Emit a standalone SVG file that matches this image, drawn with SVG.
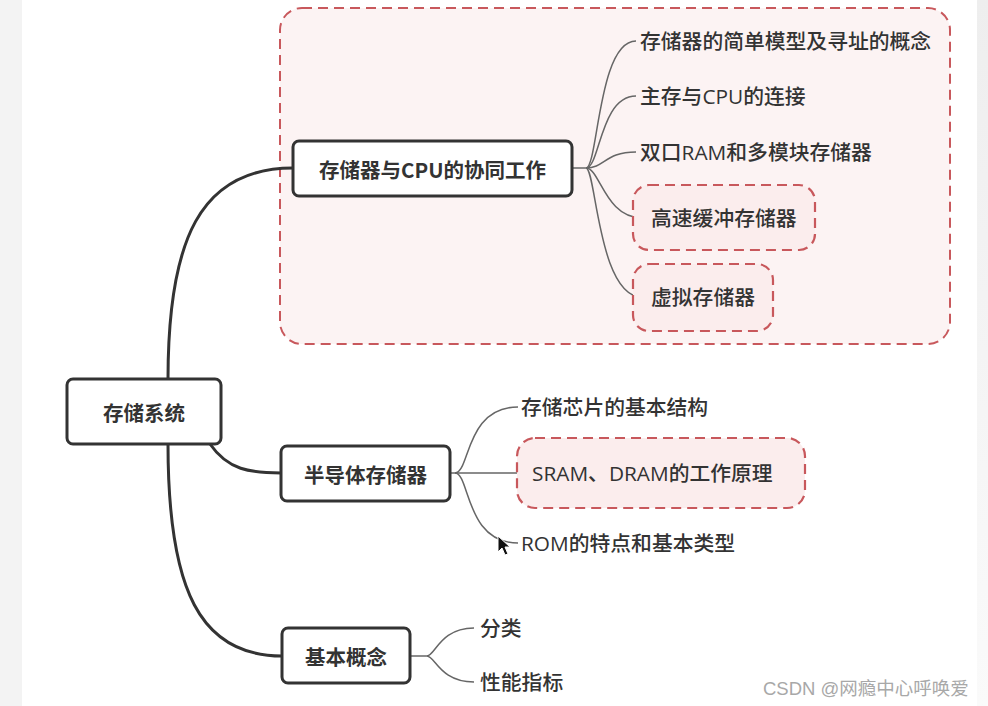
<svg xmlns="http://www.w3.org/2000/svg" width="988" height="706" viewBox="0 0 988 706">
  <defs>
    <linearGradient id="rg" x1="0" y1="0" x2="0" y2="1">
      <stop offset="0" stop-color="#eeeeee"/>
      <stop offset="1" stop-color="#fafafa"/>
    </linearGradient>
    <style>
      .node rect { fill: #ffffff; stroke: #333333; stroke-width: 3; }
      .ntext { font-family: "Noto Sans CJK SC", "Noto Sans", sans-serif; font-size: 20.5px; font-weight: bold; fill: #333333; dominant-baseline: central; }
      .leaf { font-family: "Open Sans", "Noto Sans CJK SC", sans-serif; font-size: 20.8px; font-weight: 500; fill: #333333; dominant-baseline: central; }
      .zone { fill: #fcf3f3; stroke: #c8585c; stroke-width: 2; stroke-dasharray: 10 6; }
      .hl { fill: #fbeded; stroke: #c8585c; stroke-width: 2.2; stroke-dasharray: 10 6; }
      .main { fill: none; stroke: #333333; stroke-width: 3; }
      .sub { fill: none; stroke: #666666; stroke-width: 1.5; }
      .wm { font-family: "Liberation Sans", "Noto Sans CJK SC", sans-serif; font-size: 18.5px; fill: #a8a8a8; }
    </style>
  </defs>
  <rect x="0" y="0" width="988" height="706" fill="#ffffff"/>
  <rect x="0" y="0" width="22" height="706" fill="#f3f3f3"/>
  <rect x="977" y="0" width="11" height="706" fill="url(#rg)"/>

  <!-- highlight zone -->
  <rect class="zone" x="280" y="8" width="670" height="336" rx="22"/>

  <g id="connectors">
    <path class="main" d="M168,379 C168,240 200,168 293,168"/>
    <path class="main" d="M210,444 C228,470 250,473 281,473"/>
    <path class="main" d="M168,444 C168,590 200,656 282,656"/>

    <path class="sub" d="M572,168 L586,168"/>
    <path class="sub" d="M586,168 C598,168 598,41 636,41"/>
    <path class="sub" d="M586,168 C600,168 600,96 636,96"/>
    <path class="sub" d="M586,168 C605,168 605,152 636,152"/>
    <path class="sub" d="M586,168 C600,168 605,218 642,218"/>
    <path class="sub" d="M586,168 C596,168 598,297 642,297"/>

    <path class="sub" d="M450,473 L527,473"/>
    <path class="sub" d="M455,473 C470,473 465,407 518,407"/>
    <path class="sub" d="M455,473 C470,473 465,543 518,543"/>

    <path class="sub" d="M410,656 L427,656"/>
    <path class="sub" d="M427,656 C435,656 440,628 474,628"/>
    <path class="sub" d="M427,656 C435,656 440,682 474,682"/>
  </g>

  <g id="root" class="node">
    <rect x="67" y="379" width="154" height="65" rx="6"/>
    <text class="ntext" x="144" y="411.5" text-anchor="middle">存储系统</text>
  </g>

  <g id="cpu" class="node">
    <rect x="293" y="141" width="279" height="55" rx="6"/>
    <text class="ntext" x="432.5" y="168.5" text-anchor="middle">存储器与CPU的协同工作</text>
  </g>
  <g id="cpu-1"><text class="leaf" x="640" y="41">存储器的简单模型及寻址的概念</text></g>
  <g id="cpu-2"><text class="leaf" x="640" y="96">主存与CPU的连接</text></g>
  <g id="cpu-3"><text class="leaf" x="640" y="152">双口RAM和多模块存储器</text></g>
  <g id="cpu-4">
    <rect class="hl" x="633" y="185" width="182" height="65" rx="16"/>
    <text class="leaf" x="651" y="218">高速缓冲存储器</text>
  </g>
  <g id="cpu-5">
    <rect class="hl" x="633" y="264" width="140" height="67" rx="16"/>
    <text class="leaf" x="651" y="297">虚拟存储器</text>
  </g>

  <g id="semi" class="node">
    <rect x="281" y="446" width="169" height="55" rx="6"/>
    <text class="ntext" x="365.5" y="473.5" text-anchor="middle">半导体存储器</text>
  </g>
  <g id="semi-1"><text class="leaf" x="521" y="407">存储芯片的基本结构</text></g>
  <g id="semi-2">
    <rect class="hl" x="517" y="438" width="288" height="70" rx="18"/>
    <text class="leaf" x="532" y="473">SRAM、DRAM的工作原理</text>
  </g>
  <g id="semi-3"><text class="leaf" x="521" y="543">ROM的特点和基本类型</text></g>

  <g id="basic" class="node">
    <rect x="282" y="628" width="128" height="55" rx="6"/>
    <text class="ntext" x="346" y="655.5" text-anchor="middle">基本概念</text>
  </g>
  <g id="basic-1"><text class="leaf" x="480" y="628">分类</text></g>
  <g id="basic-2"><text class="leaf" x="480" y="682">性能指标</text></g>

  <!-- mouse cursor -->
  <path d="M498,536 L498,552 L502,548 L505,555 L508,554 L505,547 L510,547 Z" fill="#111111" stroke="#ffffff" stroke-width="1"/>

  <text class="wm" x="763" y="695">CSDN @网瘾中心呼唤爱</text>
</svg>
